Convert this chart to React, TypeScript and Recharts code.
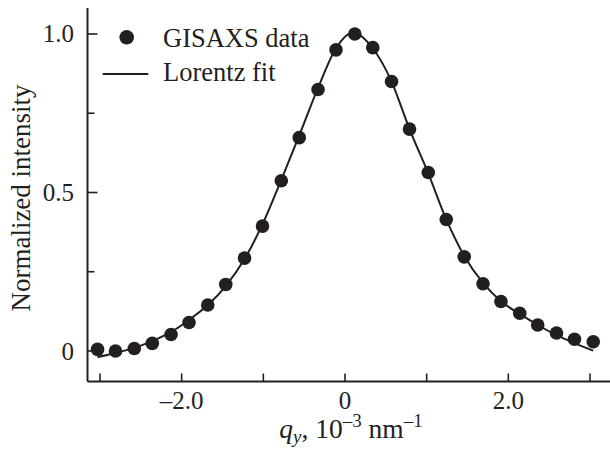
import React from 'react';
import { ComposedChart, Scatter, Line, XAxis, YAxis, Legend } from 'recharts';

// Measured data (q_y in 10^-3 nm^-1, normalized intensity)
const dataQ = [-3.03, -2.81, -2.58, -2.36, -2.13, -1.91, -1.68, -1.46, -1.23, -1.01, -0.78, -0.56, -0.33, -0.11, 0.12, 0.34, 0.57, 0.79, 1.02, 1.24, 1.46, 1.69, 1.91, 2.14, 2.36, 2.59, 2.81, 3.04];
const dataI = [0.005, 0.0, 0.008, 0.024, 0.052, 0.09, 0.145, 0.21, 0.293, 0.394, 0.537, 0.673, 0.825, 0.95, 1.0, 0.957, 0.85, 0.7, 0.563, 0.415, 0.297, 0.212, 0.156, 0.119, 0.082, 0.057, 0.037, 0.029];

// Lorentz fit curve
const fitQ = [-3.03, -2.81, -2.58, -2.36, -2.13, -1.91, -1.68, -1.46, -1.23, -1.01, -0.78, -0.56, -0.33, -0.11, 0.1, 0.34, 0.57, 0.79, 1.02, 1.24, 1.46, 1.69, 1.91, 2.14, 2.36, 2.59, 2.81, 3.04];
const fitI = [-0.019, -0.006, 0.01, 0.031, 0.06, 0.098, 0.145, 0.205, 0.29, 0.4, 0.54, 0.68, 0.83, 0.955, 1.005, 0.955, 0.85, 0.7, 0.56, 0.415, 0.3, 0.215, 0.157, 0.117, 0.082, 0.05, 0.025, 0.001];

const xTicks = [-3, -2, -1, 0, 1, 2, 3];
const xTickLabels: Record<string, string> = { '-2': '–2.0', '0': '0', '2': '2.0' };
const yTicks = [0, 0.25, 0.5, 0.75, 1.0];
const yTickLabels: Record<string, string> = { '0': '0', '0.5': '0.5', '1': '1.0' };

const legendLabels = ['GISAXS data', 'Lorentz fit'];

const INK = '#231f20';
const FONT = '"Liberation Serif", "Times New Roman", serif';

const scatterData = dataQ.map((x, i) => ({ x, y: dataI[i] }));
const fitData = fitQ.map((x, i) => ({ x, y: fitI[i] }));

const XTick = (props: any) => {
  const { x, y, payload } = props;
  const label = xTickLabels[String(payload.value)];
  return (
    <g>
      <line x1={x} x2={x} y1={y} y2={y - 8} stroke={INK} strokeWidth={1.6} />
      {label !== undefined && (
        <text x={x} y={y + 27} textAnchor="middle" fontFamily={FONT} fontSize={25} fill={INK}>
          {label}
        </text>
      )}
    </g>
  );
};

const YTick = (props: any) => {
  const { x, y, payload } = props;
  const label = yTickLabels[String(payload.value)];
  const major = label !== undefined;
  return (
    <g>
      <line x1={x} x2={x + (major ? 10 : 7)} y1={y} y2={y} stroke={INK} strokeWidth={1.6} />
      {major && (
        <text x={x - 13.5} y={y + 8.5} textAnchor="end" fontFamily={FONT} fontSize={25} fill={INK}>
          {label}
        </text>
      )}
    </g>
  );
};

const Dot = (props: any) => {
  const { cx, cy } = props;
  if (cx == null || cy == null) return null;
  return <circle cx={cx} cy={cy} r={6.8} fill={INK} />;
};

const LegendContent = () => (
  <svg width={330} height={100} style={{ display: 'block' }}>
    <circle cx={126.7} cy={37.3} r={7.3} fill={INK} />
    <text x={163} y={46.5} fontFamily={FONT} fontSize={26.5} fill={INK}>{legendLabels[0]}</text>
    <line x1={102.7} x2={148.3} y1={74} y2={74} stroke={INK} strokeWidth={2} />
    <text x={163} y={80.5} fontFamily={FONT} fontSize={26.5} fill={INK}>{legendLabels[1]}</text>
  </svg>
);

export default function App() {
  return (
    <div style={{ position: 'absolute', left: 0, top: 0, width: 610, height: 454, background: '#fff' }}>
      <ComposedChart
        width={610}
        height={454}
        margin={{ top: 8, right: 0, bottom: 0, left: 0 }}
        style={{ background: '#fff' }}
      >
        <XAxis
          type="number"
          dataKey="x"
          domain={[-3.153, 3.245]}
          ticks={xTicks}
          allowDataOverflow
          height={72.5}
          tickSize={0}
          tickMargin={0}
          tickLine={false}
          axisLine={{ stroke: INK, strokeWidth: 2 }}
          tick={<XTick />}
          interval={0}
        />
        <YAxis
          type="number"
          dataKey="y"
          domain={[-0.0962, 1.082]}
          ticks={yTicks}
          allowDataOverflow
          width={87.5}
          tickSize={0}
          tickMargin={0}
          tickLine={false}
          axisLine={{ stroke: INK, strokeWidth: 2 }}
          tick={<YTick />}
          interval={0}
        />
        <Line
          data={fitData}
          dataKey="y"
          type="monotone"
          stroke={INK}
          strokeWidth={2}
          dot={false}
          activeDot={false}
          isAnimationActive={false}
          legendType="line"
          name={legendLabels[1]}
        />
        <Scatter
          data={scatterData}
          dataKey="y"
          fill={INK}
          shape={<Dot />}
          isAnimationActive={false}
          name={legendLabels[0]}
        />
        <Legend
          layout="vertical"
          align="center"
          verticalAlign="middle"
          wrapperStyle={{ left: 0, top: 0, width: 330, height: 100 }}
          content={<LegendContent />}
        />
        <text x={351} y={438} textAnchor="middle" fontFamily={FONT} fontSize={27.5} fill={INK}>
          <tspan fontStyle="italic">q</tspan>
          <tspan fontStyle="italic" fontSize={19} dy={5}>y</tspan>
          <tspan dy={-5}>, 10</tspan>
          <tspan fontSize={19} dy={-11}>–3</tspan>
          <tspan dy={11}> nm</tspan>
          <tspan fontSize={19} dy={-11}>–1</tspan>
        </text>
        <text
          x={30}
          y={198}
          transform="rotate(-90 30 198)"
          textAnchor="middle"
          fontFamily={FONT}
          fontSize={27}
          fill={INK}
        >
          Normalized intensity
        </text>
      </ComposedChart>
    </div>
  );
}
